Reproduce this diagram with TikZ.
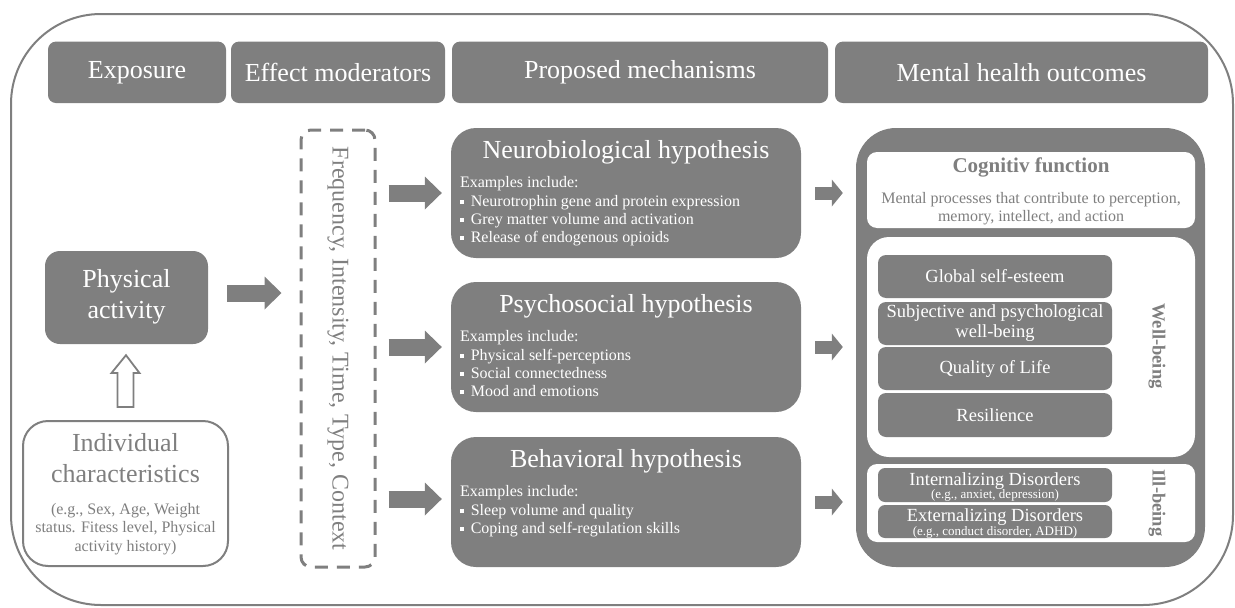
\documentclass[tikz,border=0pt]{standalone}
\usepackage{fontspec}
\setmainfont{Liberation Serif}
\usetikzlibrary{arrows.meta,calc}
\definecolor{mgray}{RGB}{127,127,127}
\newcommand{\myfs}[2]{\fontsize{#1}{#2}\selectfont}
\newcommand{\sqb}{\raisebox{2.5pt}{\rule{3.8pt}{3.8pt}}\hspace{7pt}}
\begin{document}
\begin{tikzpicture}[x=1pt,y=-1pt,
  hdr/.style={fill=mgray, rounded corners=8pt, text=white, font=\myfs{26}{30}, minimum height=61.5pt, inner sep=0pt},
  dbox/.style={fill=mgray, inner sep=0pt},
  wbox/.style={fill=white, inner sep=0pt},
  ibox/.style={dbox, rounded corners=8pt, minimum width=234pt, minimum height=43pt, text=white, font=\myfs{18.5}{20}, align=center},
  wtext/.style={text=white, inner sep=0pt},
  gtext/.style={text=mgray, inner sep=0pt},
  fat/.style={draw=mgray, line width=17pt, -{Triangle[length=17pt,width=33pt,line width=0pt]}},
  slim/.style={draw=mgray, line width=13pt, -{Triangle[length=11pt,width=27pt,line width=0pt]}}
]
\useasboundingbox (0,0) rectangle (1235,608);
% outer frame
\draw[mgray, line width=2pt, rounded corners=90pt] (11,14) rectangle (1233,605);

% headers
\node[hdr, minimum width=178pt] (hexp) at (137,72.3) {Exposure};
\node[hdr, minimum width=214pt] (hmod) at (338,72.3) {Effect moderators};
\node[hdr, minimum width=376pt] (hmech) at (640,72.3) {Proposed mechanisms};
\node[hdr, minimum width=373pt] (hout) at (1021.5,72.3) {Mental health outcomes};

% exposure
\node[dbox, rounded corners=15pt, minimum width=163pt, minimum height=93pt] (phys) at (126.5,297.5) {};
\node[wtext, font=\myfs{26}{31}, anchor=base] (physt) at (126.5,287.3) {\begin{tabular}[t]{@{}c@{}}Physical\\activity\end{tabular}};

\node[draw=mgray, line width=2pt, fill=white, rounded corners=25pt, minimum width=205pt, minimum height=145pt, inner sep=0pt] (indiv) at (125.5,493.5) {};
\node[gtext, font=\myfs{26}{31}, anchor=base] (indivt) at (125.5,451.7) {\begin{tabular}[t]{@{}c@{}}Individual\\characteristics\end{tabular}};
\node[gtext, font=\myfs{16}{18.5}, anchor=base] (indivs) at (125.5,514) {\begin{tabular}[t]{@{}c@{}}(e.g., Sex, Age, Weight\\status. Fitess level, Physical\\activity history)\end{tabular}};

% hollow arrow
\draw[mgray, line width=1.8pt, fill=white, line join=miter]
  ($(indiv.north)+(-8,-13)$) -- ($(indiv.north)+(-8,-47)$) -- ($(indiv.north)+(-14,-47)$)
  -- ($(phys.south)+(-0.5,11)$) -- ($(indiv.north)+(14,-47)$) -- ($(indiv.north)+(8,-47)$)
  -- ($(indiv.north)+(8,-13)$) -- cycle;

% moderators
\node[draw=mgray, line width=3pt, dash pattern=on 13pt off 9pt, rounded corners=10pt, minimum width=74pt, minimum height=437pt, inner sep=0pt] (mod) at (338,348.5) {};
\node[gtext, rotate=-90, font=\myfs{24}{28}] (modt) at (mod.center) {Frequency, Intensity, Time, Type, Context};

\draw[fat] ($(phys.east)+(19,-4.5)$) -- ($(mod.west|-phys.east)+(-18,-4.5)$);

% mechanisms
\node[dbox, rounded corners=25pt, minimum width=350pt, minimum height=130pt] (neuro) at (626,193) {};
\node[wtext, font=\myfs{26}{30}, anchor=base] (neurot) at ($(neuro.north)+(0,31)$) {Neurobiological hypothesis};
\node[wtext, font=\myfs{16}{18.3}, anchor=base west] (neurob) at ($(neuro.north west)+(9,60)$) {\begin{tabular}[t]{@{}l@{}}Examples include:\\\sqb Neurotrophin gene and protein expression\\\sqb Grey matter volume and activation\\\sqb Release of endogenous opioids\end{tabular}};

\node[dbox, rounded corners=25pt, minimum width=350pt, minimum height=130pt] (psych) at (626,347) {};
\node[wtext, font=\myfs{26}{30}, anchor=base] (psycht) at ($(psych.north)+(0,31)$) {Psychosocial hypothesis};
\node[wtext, font=\myfs{16}{18.3}, anchor=base west] (psychb) at ($(psych.north west)+(9,60)$) {\begin{tabular}[t]{@{}l@{}}Examples include:\\\sqb Physical self-perceptions\\\sqb Social connectedness\\\sqb Mood and emotions\end{tabular}};

\node[dbox, rounded corners=25pt, minimum width=350pt, minimum height=130pt] (behav) at (626,502) {};
\node[wtext, font=\myfs{26}{30}, anchor=base] (behavt) at ($(behav.north)+(0,31)$) {Behavioral hypothesis};
\node[wtext, font=\myfs{16}{18.3}, anchor=base west] (behavb) at ($(behav.north west)+(9,60)$) {\begin{tabular}[t]{@{}l@{}}Examples include:\\\sqb Sleep volume and quality\\\sqb Coping and self-regulation skills\end{tabular}};

\draw[fat] ($(mod.east|-neuro.west)+(12,0)$) -- ($(neuro.west)+(-9,0)$);
\draw[fat] ($(mod.east|-psych.west)+(12,0)$) -- ($(psych.west)+(-9,0)$);
\draw[fat] ($(mod.east|-behav.west)+(12,-3)$) -- ($(behav.west)+(-9,-3)$);

% outcomes
\node[dbox, rounded corners=40pt, minimum width=349pt, minimum height=439pt] (out) at (1030.5,347.5) {};
\draw[slim] ($(neuro.east)+(14,0)$) -- ($(out.west|-neuro.east)+(-13,0)$);
\draw[slim] ($(psych.east)+(14,0)$) -- ($(out.west|-psych.east)+(-13,0)$);
\draw[slim] ($(behav.east)+(14,0)$) -- ($(out.west|-behav.east)+(-13,0)$);

\node[wbox, rounded corners=10pt, minimum width=328pt, minimum height=76pt] (cog) at (1031,190) {};
\node[gtext, font=\bfseries\myfs{21}{24}, anchor=base] (cogt) at (1031,172.7) {Cognitiv function};
\node[gtext, font=\myfs{16}{17.7}, anchor=base] (cogd) at (1031,203.3) {\begin{tabular}[t]{@{}c@{}}Mental processes that contribute to perception,\\memory, intellect, and action\end{tabular}};

\node[wbox, rounded corners=22pt, minimum width=328pt, minimum height=220pt] (wb) at (1031,347) {};
\node[ibox] (gse) at (995,276.5) {Global self-esteem};
\node[ibox] (swb) at (995,323.5) {Subjective and psychological\\well-being};
\node[ibox] (qol) at (995,368.5) {Quality of Life};
\node[ibox, minimum height=44pt] (res) at (995,415) {Resilience};
\node[gtext, font=\bfseries\myfs{18.5}{20}, rotate=-90] (wbt) at (1157,346) {Well-being};

\node[wbox, rounded corners=10pt, minimum width=328pt, minimum height=78pt] (ib) at (1031,503) {};
\node[dbox, rounded corners=7pt, minimum width=234pt, minimum height=34pt] (intd) at (995,485) {};
\node[wtext, font=\myfs{18.5}{20}, anchor=base] (intt) at (995,485.7) {Internalizing Disorders};
\node[wtext, font=\myfs{13}{14}, anchor=base] (ints) at (995,498) {(e.g., anxiet, depression)};
\node[dbox, rounded corners=7pt, minimum width=234pt, minimum height=33pt] (extd) at (995,521.5) {};
\node[wtext, font=\myfs{18.5}{20}, anchor=base] (extt) at (995,521.7) {Externalizing Disorders};
\node[wtext, font=\myfs{13}{14}, anchor=base] (exts) at (995,535) {(e.g., conduct disorder, ADHD)};
\node[gtext, font=\bfseries\myfs{18.5}{20}, rotate=-90] (ibt) at (1157,503) {Ill-being};
\end{tikzpicture}
\end{document}
